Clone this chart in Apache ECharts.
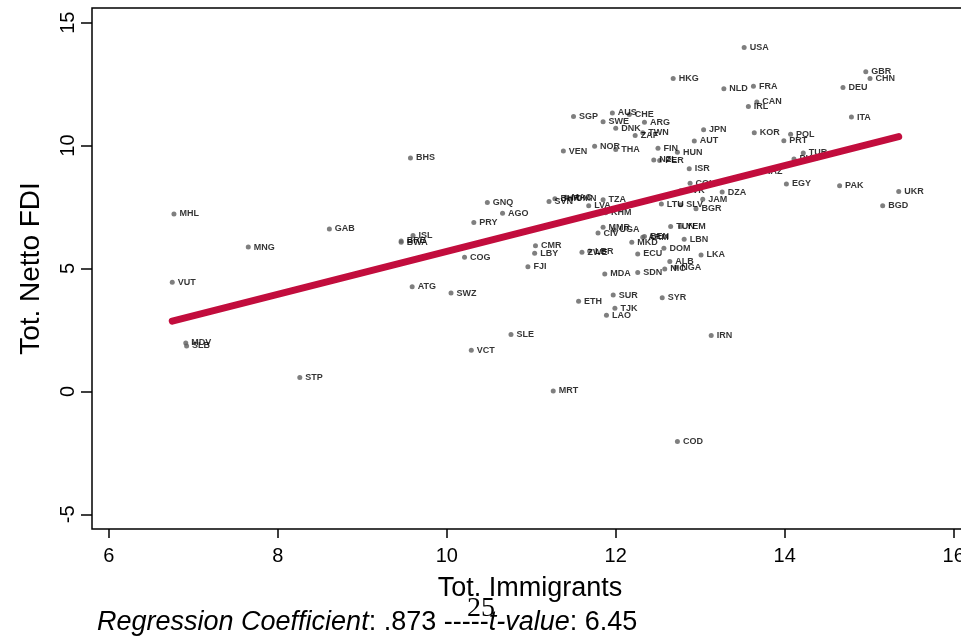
<!DOCTYPE html>
<html>
<head>
<meta charset="utf-8">
<script src="https://cdn.jsdelivr.net/npm/echarts@6/dist/echarts.min.js"></script>
<style>
  html, body { margin: 0; padding: 0; background: #fff; overflow: hidden; }
  #chart { width: 980px; height: 639px; }
</style>
</head>
<body>
<div id="chart"></div>
<script>
// country codes, log immigrants (x) and log net FDI (y)
var countries = ['MHL', 'VUT', 'MDV', 'SLB', 'MNG', 'STP', 'GAB', 'BHS', 'ISL', 'BWA',
    'BRB', 'ATG', 'SWZ', 'COG', 'VCT', 'PRY', 'GNQ', 'AGO', 'SLE', 'FJI',
    'LBY', 'CMR', 'SVN', 'BHR', 'MAC', 'OMN', 'MRT', 'VEN', 'SGP', 'ETH',
    'ZWE', 'LBR', 'LVA', 'NOR', 'CIV', 'SWE', 'TZA', 'MMR', 'MDA', 'KHM',
    'LAO', 'AUS', 'SUR', 'UGA', 'TJK', 'DNK', 'THA', 'CHE', 'MKD', 'ZAF',
    'ECU', 'SDN', 'ARM', 'BEN', 'TWN', 'ARG', 'NZL', 'PER', 'FIN', 'LTU',
    'SYR', 'DOM', 'NIC', 'ALB', 'TUN', 'HKG', 'NGA', 'HUN', 'COD', 'SVK',
    'SLV', 'YEM', 'LBN', 'ISR', 'COL', 'AUT', 'BGR', 'LKA', 'JAM', 'JPN',
    'IRN', 'DZA', 'NLD', 'USA', 'IRL', 'FRA', 'KOR', 'CAN', 'KAZ', 'PRT',
    'EGY', 'POL', 'PHL', 'TUR', 'PAK', 'DEU', 'ITA', 'GBR', 'CHN', 'BGD',
    'UKR'];
var immigrants = [6.77, 6.75, 6.91, 6.92, 7.65, 8.26, 8.61, 9.57, 9.60, 9.46,
    9.46, 9.59, 10.05, 10.21, 10.29, 10.32, 10.48, 10.66, 10.76, 10.96,
    11.04, 11.05, 11.21, 11.28, 11.41, 11.46, 11.26, 11.38, 11.50, 11.56,
    11.60, 11.69, 11.68, 11.75, 11.79, 11.85, 11.85, 11.85, 11.87, 11.88,
    11.89, 11.96, 11.97, 11.98, 11.99, 12.00, 12.00, 12.16, 12.19, 12.23,
    12.26, 12.26, 12.32, 12.34, 12.32, 12.34, 12.45, 12.52, 12.50, 12.54,
    12.55, 12.57, 12.58, 12.64, 12.65, 12.68, 12.71, 12.73, 12.73, 12.77,
    12.77, 12.77, 12.81, 12.87, 12.88, 12.93, 12.95, 13.01, 13.03, 13.04,
    13.13, 13.26, 13.28, 13.52, 13.57, 13.63, 13.64, 13.67, 13.69, 13.99,
    14.02, 14.07, 14.11, 14.22, 14.65, 14.69, 14.79, 14.96, 15.01, 15.16,
    15.35];
var nettoFdi = [7.22, 4.44, 1.97, 1.85, 5.87, 0.56, 6.61, 9.50, 6.34, 6.07,
    6.12, 4.26, 4.00, 5.46, 1.67, 6.87, 7.69, 7.25, 2.31, 5.07,
    5.62, 5.93, 7.73, 7.84, 7.90, 7.86, 0.02, 9.78, 11.18, 3.67,
    5.66, 5.71, 7.55, 9.97, 6.44, 10.97, 7.80, 6.68, 4.78, 7.27,
    3.10, 11.33, 3.92, 6.57, 3.38, 10.71, 9.84, 11.27, 6.07, 10.41,
    5.59, 4.84, 6.27, 6.30, 10.52, 10.95, 9.42, 9.39, 9.89, 7.62,
    3.81, 5.82, 4.98, 5.28, 6.71, 12.73, 5.05, 9.73, -2.04, 8.16,
    7.59, 6.71, 6.19, 9.06, 8.47, 10.19, 7.43, 5.55, 7.82, 10.65,
    2.27, 8.11, 12.31, 13.99, 11.59, 12.42, 10.52, 11.78, 8.94, 10.20,
    8.44, 10.46, 9.46, 9.70, 8.37, 12.37, 11.16, 13.01, 12.73, 7.55,
    8.13];

// fitted line end points
var fitX = [6.75, 15.35];
var fitY = [2.86, 10.37];

var xTicks = [6, 8, 10, 12, 14, 16];
var yTicks = [-5, 0, 5, 10, 15];

var FONT = '"Liberation Sans", Arial, sans-serif';

function renderChart() {
    var dom = document.getElementById('chart');
    var myChart = echarts.init(dom);

    var points = countries.map(function(c, i) {
        return { name: c, value: [immigrants[i], nettoFdi[i]] };
    });
    var fitLine = fitX.map(function(x, i) {
        return [x, fitY[i]];
    });

    var option = {
        backgroundColor: '#FFFFFF',
        animation: false,
        grid: {
            left: 92,
            right: 12,
            top: 8,
            bottom: 110,
            show: true,
            borderColor: '#000',
            borderWidth: 1.5
        },
        xAxis: {
            type: 'value',
            min: 5.8,
            max: 16.17,
            name: 'Tot. Immigrants',
            nameLocation: 'middle',
            nameGap: 46,
            nameTextStyle: { fontFamily: FONT, fontSize: 27, color: '#000' },
            splitLine: { show: false },
            axisLine: { show: false, onZero: false },
            axisTick: {
                show: true,
                length: 9,
                customValues: xTicks,
                lineStyle: { color: '#000', width: 1.5 }
            },
            axisLabel: {
                customValues: xTicks,
                margin: 17,
                fontFamily: FONT,
                fontSize: 20,
                color: '#000'
            }
        },
        yAxis: {
            type: 'value',
            min: -5.6,
            max: 15.6,
            name: 'Tot. Netto FDI',
            nameLocation: 'middle',
            nameGap: 47,
            nameRotate: 90,
            nameTextStyle: { fontFamily: FONT, fontSize: 28, color: '#000' },
            splitLine: { show: false },
            axisLine: { show: false, onZero: false },
            axisTick: {
                show: true,
                length: 11,
                customValues: yTicks,
                lineStyle: { color: '#000', width: 1.5 }
            },
            axisLabel: {
                customValues: yTicks,
                rotate: 90,
                margin: 14,
                fontFamily: FONT,
                fontSize: 20,
                color: '#000'
            }
        },
        series: [{
            type: 'scatter',
            data: points,
            symbolSize: 5,
            itemStyle: { color: '#5f5f5f' },
            label: {
                show: true,
                position: 'right',
                distance: 3,
                formatter: '{b}',
                fontFamily: FONT,
                fontSize: 9,
                fontWeight: 'bold',
                color: '#000'
            },
            z: 2
        }, {
            type: 'line',
            data: fitLine,
            symbol: 'none',
            lineStyle: { color: '#C20D3D', width: 7, cap: 'round' },
            z: 3
        }],
        graphic: [{
            type: 'text',
            left: 97,
            top: 609,
            style: {
                text: '{i|Regression Coefficient}: .873 -----{i|t-value}: 6.45',
                fontFamily: FONT,
                fontSize: 27,
                fill: '#000',
                rich: {
                    i: { fontStyle: 'italic', fontFamily: FONT, fontSize: 27, color: '#000' }
                }
            }
        }, {
            type: 'text',
            left: 467,
            top: 595,
            style: {
                text: '25',
                fontFamily: '"Liberation Serif", "DejaVu Serif", serif',
                fontSize: 28,
                fill: '#000'
            }
        }]
    };

    if (option && typeof option === 'object') {
        myChart.setOption(option);
    }
}
renderChart();
</script>
</body>
</html>
